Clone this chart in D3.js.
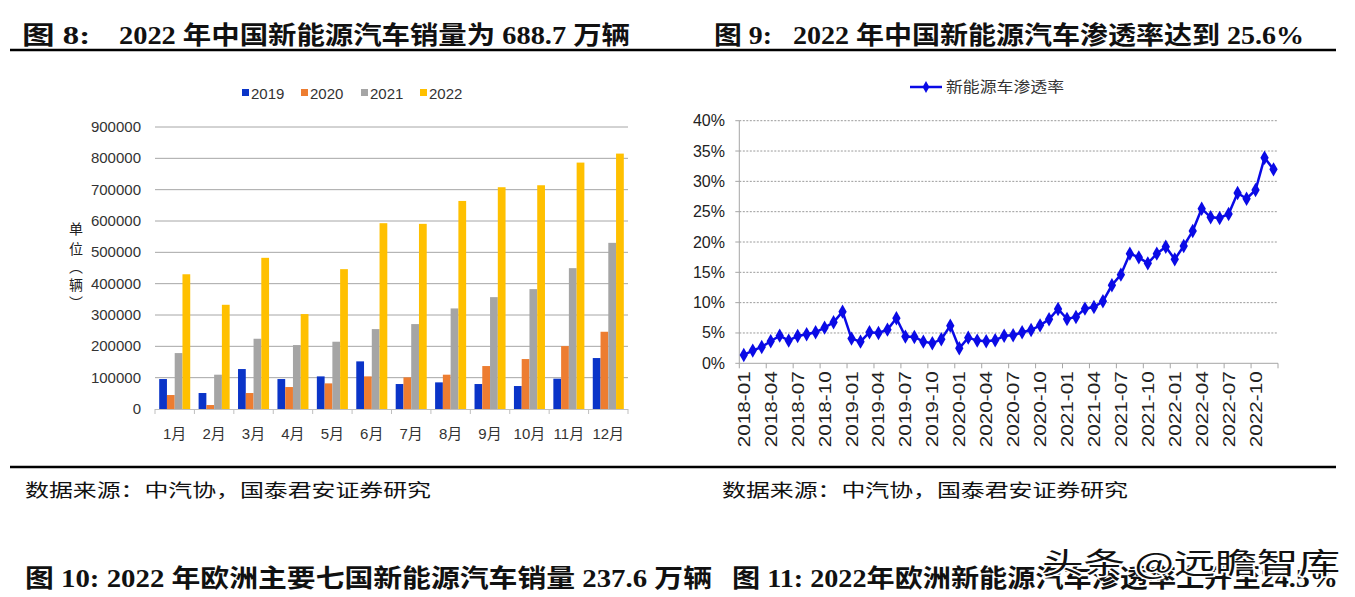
<!DOCTYPE html>
<html><head><meta charset="utf-8">
<script src="https://cdn.jsdelivr.net/npm/d3@7/dist/d3.min.js"></script>
<style>
body{margin:0;background:#fff;}
svg{display:block;}
</style></head>
<body>
<svg id="c" width="1355" height="597"></svg>
<script>
// ---------- data ----------
const months = ["1月","2月","3月","4月","5月","6月","7月","8月","9月","10月","11月","12月"];
const years = ["2019","2020","2021","2022"];
const sales2019 = [95600,51000,127500,95600,104100,152000,79700,85000,79700,73300,96700,162600];
const sales2020 = [44600,12700,51000,70100,81800,104100,101000,109500,137100,159400,200800,246500];
const sales2021 = [178500,109500,224200,204000,214700,255000,271000,321000,357000,382600,449500,530300];
const sales2022 = [430000,332600,482500,302900,446300,593000,590900,664000,707800,714100,786400,815100];
const salesTicks = [0,100000,200000,300000,400000,500000,600000,700000,800000,900000];

const penDates = [];
for (let y = 2018; y <= 2022; y++) for (let m = 1; m <= 12; m++) penDates.push(y + "-" + String(m).padStart(2,"0"));
const penRate = [1.37,2.09,2.69,3.63,4.56,3.74,4.51,4.78,5.11,5.88,6.76,8.52,
  4.07,3.57,5.11,5.00,5.55,7.42,4.40,4.34,3.57,3.30,3.96,6.21,
  2.47,4.23,3.74,3.63,3.79,4.53,4.62,5.11,5.49,6.26,7.25,8.96,
  7.31,7.64,9.01,9.29,10.22,12.86,14.62,18.08,17.47,16.48,18.08,19.23,
  17.14,19.34,21.81,25.49,24.07,23.96,24.62,28.08,27.14,28.57,33.90,31.98];
const penTicks = [0,5,10,15,20,25,30,35,40];

const svg = d3.select("#c");
const serifCJK = "'Liberation Serif','Noto Sans CJK SC',serif";
const sans = "'Liberation Sans',Arial,'Noto Sans CJK SC',sans-serif";

// ---------- titles & rules ----------
function title(x, y, t, len){
  const tx = svg.append("text").attr("x",x).attr("y",y).attr("font-family",serifCJK)
    .attr("font-weight","bold").attr("font-size",25).attr("fill","#111").attr("xml:space","preserve").text(t);
  if (len) tx.attr("textLength",len).attr("lengthAdjust","spacingAndGlyphs");
}
title(22, 44, "图 8:", 68);
title(119, 44, "2022 年中国新能源汽车销量为 688.7 万辆", 511);
title(714, 44, "图 9:", 58);
title(793, 44, "2022 年中国新能源汽车渗透率达到 25.6%", 511);
svg.append("line").attr("x1",10).attr("x2",1336).attr("y1",50).attr("y2",50).attr("stroke","#000").attr("stroke-width",2.5);
svg.append("line").attr("x1",10).attr("x2",1336).attr("y1",467).attr("y2",467).attr("stroke","#000").attr("stroke-width",2.5);
function source(x){
  svg.append("text").attr("x",x).attr("y",497).attr("font-family","'Noto Sans CJK SC',serif")
    .attr("font-size",18).attr("fill","#111").attr("textLength",406).attr("lengthAdjust","spacingAndGlyphs")
    .text("数据来源：中汽协，国泰君安证券研究");
}
source(25); source(722);
title(25, 587, "图 10: 2022 年欧洲主要七国新能源汽车销量 237.6 万辆", 687);
title(732, 587, "图 11: 2022年欧洲新能源汽车渗透率上升至24.5%", 606);
svg.append("text").attr("x",1042).attr("y",574).attr("font-family","'Noto Sans CJK SC',sans-serif")
  .attr("font-size",29).attr("fill","#111").attr("stroke","#fff").attr("stroke-width",3)
  .attr("paint-order","stroke").attr("textLength",298).attr("lengthAdjust","spacingAndGlyphs").text("头条 @远瞻智库");

// ---------- left chart: grouped bars ----------
const L = {x0:155, x1:628, y0:409, y1:127};
const xb = d3.scaleBand().domain(months).range([L.x0, L.x1]).padding(0);
const xg = d3.scaleBand().domain(years).range([0, xb.bandwidth()]).paddingInner(0).paddingOuter(0.54);
const ys = d3.scaleLinear().domain([0,900000]).range([L.y0, L.y1]);
const colors = {"2019":"#0a34c8","2020":"#ed7d31","2021":"#a5a5a5","2022":"#ffc000"};
const seriesVals = {"2019":sales2019,"2020":sales2020,"2021":sales2021,"2022":sales2022};

const gl = svg.append("g");
gl.selectAll("line.grid").data(salesTicks.slice(1)).join("line")
  .attr("x1",L.x0).attr("x2",L.x1).attr("y1",d=>ys(d)).attr("y2",d=>ys(d))
  .attr("stroke","#a6a6a6").attr("stroke-width",1);
gl.selectAll("text.yt").data(salesTicks).join("text")
  .attr("x",141).attr("y",d=>ys(d)+5).attr("text-anchor","end")
  .attr("font-family",sans).attr("font-size",15).attr("fill","#333").text(d=>d);
years.forEach(yr=>{
  gl.selectAll(null).data(months).join("rect")
    .attr("x",m=>xb(m)+xg(yr)).attr("width",xg.bandwidth())
    .attr("y",(m,i)=>ys(seriesVals[yr][i])).attr("height",(m,i)=>ys(0)-ys(seriesVals[yr][i]))
    .attr("fill",colors[yr]);
});
gl.append("line").attr("x1",L.x0).attr("x2",L.x1).attr("y1",L.y0+0.5).attr("y2",L.y0+0.5).attr("stroke","#bfbfbf");
const bTicks = months.map(m=>xb(m)).concat([L.x1]);
gl.selectAll("line.bt").data(bTicks).join("line")
  .attr("x1",d=>d).attr("x2",d=>d).attr("y1",L.y0).attr("y2",L.y0+5).attr("stroke","#bfbfbf");
gl.selectAll("text.xt").data(months).join("text")
  .attr("x",m=>xb(m)+xb.bandwidth()/2).attr("y",439).attr("text-anchor","middle")
  .attr("font-family",sans).attr("font-size",15).attr("fill","#333").text(d=>d);
// unit label (vertical)
const unit = ["单","位","︵","辆","︶"];
const unitY = [234,254,272,290,308];
gl.selectAll("text.unit").data(unit).join("text")
  .attr("x",76).attr("y",(d,i)=>unitY[i]).attr("text-anchor","middle")
  .attr("font-family","'Noto Sans CJK SC',serif").attr("font-size",14).attr("fill","#222").text(d=>d);
// legend
const legX = [242,301,361,420];
years.forEach((yr,i)=>{
  gl.append("rect").attr("x",legX[i]).attr("y",89).attr("width",7).attr("height",7).attr("fill",colors[yr]);
  gl.append("text").attr("x",legX[i]+9).attr("y",99).attr("font-family",sans).attr("font-size",15).attr("fill","#333").text(yr);
});

// ---------- right chart: line ----------
const R = {x0:739.3, x1:1278, y0:363.3, y1:120.7};
const xp = d3.scaleBand().domain(penDates).range([R.x0, R.x1]);
const yp = d3.scaleLinear().domain([0,40]).range([R.y0, R.y1]);
const gr = svg.append("g");
gr.selectAll("line.grid").data(penTicks.slice(1)).join("line")
  .attr("x1",R.x0).attr("x2",R.x1).attr("y1",d=>yp(d)).attr("y2",d=>yp(d))
  .attr("stroke","#9a9a9a").attr("stroke-width",1).attr("stroke-dasharray","2,1.5");
gr.append("line").attr("x1",R.x0).attr("x2",R.x0).attr("y1",R.y1).attr("y2",R.y0).attr("stroke","#a6a6a6");
gr.selectAll("line.yt").data(penTicks).join("line")
  .attr("x1",R.x0-4).attr("x2",R.x0).attr("y1",d=>yp(d)).attr("y2",d=>yp(d)).attr("stroke","#a6a6a6");
gr.append("line").attr("x1",R.x0).attr("x2",R.x1).attr("y1",R.y0).attr("y2",R.y0).attr("stroke","#a6a6a6");
const tickDates = penDates.filter((d,i)=>i%3===0);
gr.selectAll("line.xt").data(tickDates.map(d=>xp(d)).concat([R.x1])).join("line")
  .attr("x1",d=>d).attr("x2",d=>d).attr("y1",R.y0).attr("y2",R.y0+5).attr("stroke","#a6a6a6");
gr.selectAll("text.yl").data(penTicks).join("text")
  .attr("x",725).attr("y",d=>yp(d)+5.5).attr("text-anchor","end")
  .attr("font-family",sans).attr("font-size",16).attr("fill","#222").text(d=>d+"%");
gr.selectAll("text.xl").data(tickDates).join("text")
  .attr("transform",d=>`translate(${xp(d)+xp.bandwidth()/2+6},${R.y0+8}) rotate(-90)`)
  .attr("text-anchor","end").attr("font-family",sans).attr("font-size",16).attr("fill","#222")
  .attr("textLength",76).attr("lengthAdjust","spacingAndGlyphs").text(d=>d);
const line = d3.line().x((d,i)=>xp(penDates[i])+xp.bandwidth()/2).y(d=>yp(d));
gr.append("path").datum(penRate).attr("d",line).attr("fill","none").attr("stroke","#0a0ae6").attr("stroke-width",2.5);
const diamond = d3.symbol().type(d3.symbolDiamond).size(60);
gr.selectAll("path.pt").data(penRate).join("path")
  .attr("transform",(d,i)=>`translate(${xp(penDates[i])+xp.bandwidth()/2},${yp(d)})`)
  .attr("d",diamond).attr("fill","#0a0ae6");
// legend
gr.append("line").attr("x1",910).attr("x2",942).attr("y1",87).attr("y2",87).attr("stroke","#0a0ae6").attr("stroke-width",2.5);
gr.append("path").attr("transform","translate(926,87)").attr("d",d3.symbol().type(d3.symbolDiamond).size(40)).attr("fill","#0a0ae6");
gr.append("text").attr("x",946).attr("y",92).attr("font-family","'Noto Sans CJK SC',serif").attr("font-size",15)
  .attr("fill","#333").attr("textLength",118).attr("lengthAdjust","spacingAndGlyphs").text("新能源车渗透率");
</script>
</body></html>
